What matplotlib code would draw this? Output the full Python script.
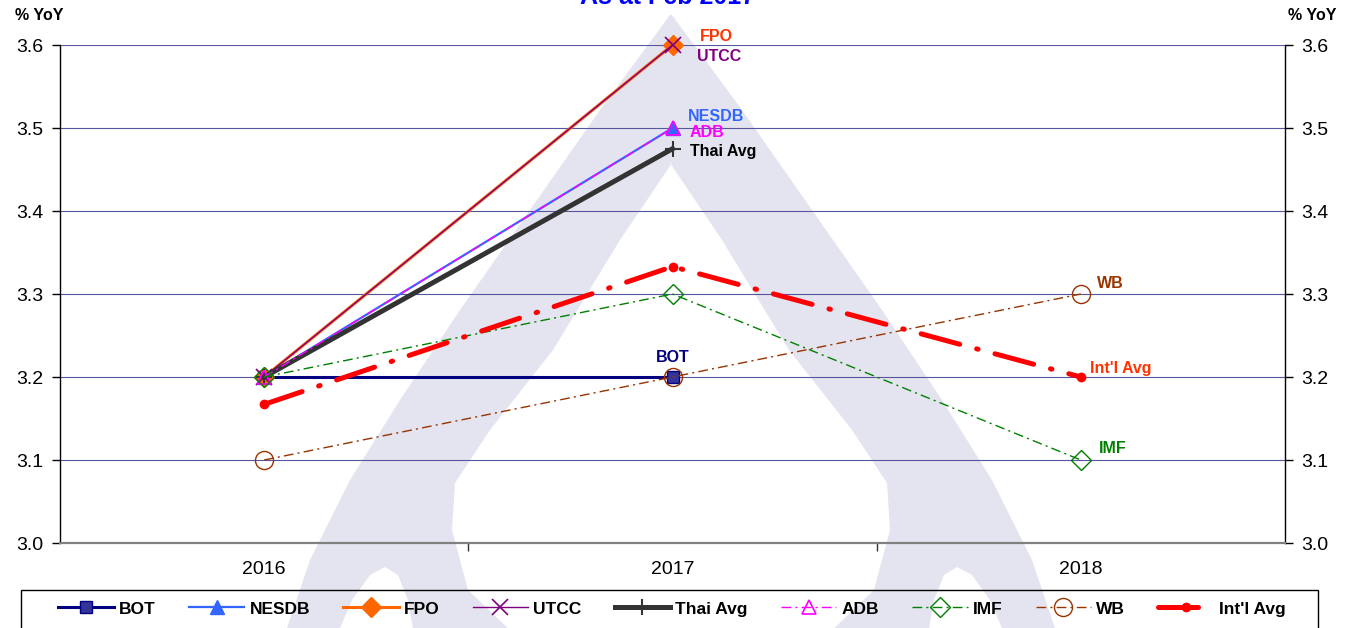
import numpy as np
import matplotlib
matplotlib.use('Agg')
import matplotlib.pyplot as plt
from matplotlib.patches import Polygon, Rectangle
from matplotlib.ticker import FixedLocator, NullFormatter, FixedFormatter

plt.rcParams['font.family'] = ['Liberation Sans', 'DejaVu Sans']

# 数据
years = ['2016', '2017', '2018']
bot = [3.2, 3.2, np.nan]
nesdb = [3.2, 3.5, np.nan]
fpo = [3.2, 3.6, np.nan]
utcc = [3.2, 3.6, np.nan]
thai_avg = [3.2, 3.475, np.nan]
adb = [3.2, 3.5, np.nan]
imf = [3.2, 3.3, 3.1]
wb = [3.1, 3.2, 3.3]
intl_avg = [3.167, 3.333, 3.2]
y_ticks = [3.0, 3.1, 3.2, 3.3, 3.4, 3.5, 3.6]

W, H = 1355, 628
fig = plt.figure(figsize=(W / 100, H / 100), dpi=100)

# 背景水印
bg = fig.add_axes([0, 0, 1, 1], zorder=-5)
bg.set_xlim(0, W)
bg.set_ylim(H, 0)
bg.axis('off')
wm = '#e4e4f0'
cx = 671
outer_left = [(670, 15), (600, 110), (530, 210), (460, 310), (400, 400),
              (350, 480), (310, 560), (283, 640)]
outer = outer_left + [(2 * cx - x, y) for x, y in outer_left[::-1]]
bg.add_patch(Polygon(outer, closed=True, fc=wm, ec='none'))
inner_left = [(672, 163), (620, 240), (553, 350), (490, 430), (455, 483),
              (452, 530), (468, 590), (520, 640)]
inner = inner_left + [(2 * cx - x, y) for x, y in inner_left[::-1]]
bg.add_patch(Polygon(inner, closed=True, fc='white', ec='none'))
notch = [(335, 640), (352, 600), (370, 575), (385, 567), (398, 575), (408, 600), (415, 640)]
bg.add_patch(Polygon(notch, closed=True, fc='white', ec='none'))
bg.add_patch(Polygon([(2 * cx - x, y) for x, y in notch], closed=True, fc='white', ec='none'))

ax = fig.add_axes([60 / W, 1 - 543 / H, (1285 - 60) / W, (543 - 45) / H])
ax.set_facecolor('none')
x = np.arange(len(years))

thin_dd = (0, (7, 3, 1.5, 3))

lines = []
lines += ax.plot(x, bot, color='#000080', lw=2.2, marker='s', ms=9, mfc='#333399', mec='#000080', label='BOT')
lines += ax.plot(x, nesdb, color='#3366FF', lw=1.6, marker='^', ms=10, mfc='#3366FF', mec='#3366FF', label='NESDB')
lines += ax.plot(x, fpo, color='#FF6600', lw=2.2, marker='D', ms=10, mfc='#FF6600', mec='#FF6600', label='FPO')
lines += ax.plot(x, utcc, color='#800080', lw=1.0, marker='x', ms=11, mew=1.2, label='UTCC')
lines += ax.plot(x, thai_avg, color='#333333', lw=3.6, marker='+', ms=12, mew=1.5, label='Thai Avg')
lines += ax.plot(x, adb, color='#FF00FF', lw=1.0, ls=thin_dd, marker='^', ms=10, mfc='none', mec='#FF00FF', mew=1.2, label='ADB')
lines += ax.plot(x, imf, color='#008000', lw=1.0, ls=thin_dd, marker='D', ms=10, mfc='none', mec='#008000', mew=1.0, label='IMF')
lines += ax.plot(x, wb, color='#993300', lw=1.0, ls=thin_dd, marker='o', ms=13, mfc='none', mec='#993300', mew=1.0, label='WB')
lines += ax.plot(x, intl_avg, color='#FF0000', lw=3.6, ls=(0, (8, 3.5, 0.3, 3.5)), dash_capstyle='round',
                 marker='o', ms=6, mfc='#FF0000', mec='#FF0000', label="Int'l Avg")
for ln in lines:
    ln.set_clip_on(False)

ax.set_xlim(-0.5, 2.5)
ax.set_ylim(3.0, 3.6)
ax.set_yticks(y_ticks)
ax.set_yticklabels([f'{v:.1f}' for v in y_ticks], fontsize=14)
ax.tick_params(axis='y', which='both', direction='out', length=6, pad=6,
               left=True, right=True, labelleft=True, labelright=True, width=1)
ax.xaxis.set_major_locator(FixedLocator([0.5, 1.5]))
ax.xaxis.set_major_formatter(NullFormatter())
ax.xaxis.set_minor_locator(FixedLocator(list(x)))
ax.xaxis.set_minor_formatter(FixedFormatter(years))
ax.tick_params(axis='x', which='major', direction='out', length=6, width=1, color='#333333')
ax.tick_params(axis='x', which='minor', length=0, pad=13, labelsize=14)

for v in y_ticks[1:]:
    ax.axhline(v, color='#5555a0', lw=0.8, zorder=0)
ax.spines['top'].set_visible(False)
ax.spines['bottom'].set_color('#808080')
ax.spines['bottom'].set_linewidth(1.6)
ax.spines['left'].set_linewidth(1.0)
ax.spines['right'].set_linewidth(1.0)

# 系列标注
lab = dict(textcoords='offset pixels', fontsize=11.5, fontweight='bold', va='center')
ax.annotate('FPO', (1, fpo[1]), xytext=(27, 9), color='#FF3300', **lab)
ax.annotate('UTCC', (1, utcc[1]), xytext=(25, -11), color='#800080', **lab)
ax.annotate('NESDB', (1, nesdb[1]), xytext=(15, 12), color='#3366FF', **lab)
ax.annotate('ADB', (1, adb[1]), xytext=(17, -4), color='#FF00FF', **lab)
ax.annotate('Thai Avg', (1, thai_avg[1]), xytext=(17, -3), color='black', **lab)
ax.annotate('BOT', (1, bot[1]), xytext=(0, 19), color='#000080', ha='center', **lab)
ax.annotate('WB', (2, wb[2]), xytext=(16, 11), color='#993300', **lab)
ax.annotate("Int'l Avg", (2, intl_avg[2]), xytext=(9, 8), color='#FF3300', **lab)
ax.annotate('IMF', (2, imf[2]), xytext=(18, 12), color='#008000', **lab)

fig.text(15 / W, 1 - 15 / H, '% YoY', fontsize=11.5, fontweight='bold', va='center', ha='left')
fig.text(1337 / W, 1 - 15 / H, '% YoY', fontsize=11.5, fontweight='bold', va='center', ha='right')
fig.text(668 / W, 1 - 4 / H, 'As at Feb 2017', fontsize=18, fontweight='bold', color='#0000FF',
         ha='center', va='baseline')

# 图例
fig.add_artist(Rectangle((21 / W, -0.05), (1318 - 21) / W, 0.05 + (628 - 590) / H,
                         transform=fig.transFigure, fc='none', ec='black', lw=1.0))
handles, labels = ax.get_legend_handles_labels()
fig.legend(handles, labels, loc='center', bbox_to_anchor=(672 / W, 1 - 609 / H), ncol=9,
           frameon=False, numpoints=1, handlelength=3.2, handletextpad=0.3, columnspacing=1.9,
           prop={'weight': 'bold', 'size': 12.5})

fig.savefig('out.png', dpi=100)
